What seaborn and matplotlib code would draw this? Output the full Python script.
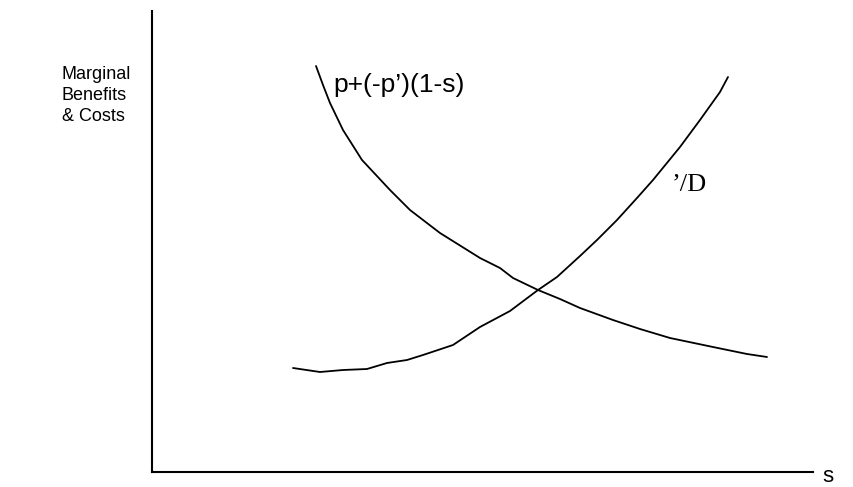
import numpy as np
import pandas as pd
import matplotlib
matplotlib.use('Agg')
import matplotlib.pyplot as plt
import seaborn as sns

sns.set_theme(style='white')
plt.rcParams['font.family'] = ['Liberation Sans', 'DejaVu Sans']

# curva decreciente: p+(-p')(1-s)
s_benef = [164, 171, 178, 191, 210, 238, 258, 288, 328, 348, 361, 386, 408, 428, 461, 488, 518, 561, 595, 615]
y_benef = [406, 387, 369, 342, 312, 282, 262, 239, 214, 204, 194, 182, 173, 164, 152, 143, 134, 125, 118, 115]

# curva creciente: '/D
s_costo = [141, 168, 191, 215, 235, 255, 271, 301, 328, 358, 386, 405, 428, 445, 465, 485, 501, 528, 548, 568, 576]
y_costo = [104, 100, 102, 103, 109, 112, 117, 127, 145, 161, 182, 195, 216, 232, 252, 274, 292, 325, 352, 380, 395]

benef = pd.DataFrame({'s': s_benef, 'valor': y_benef})
costo = pd.DataFrame({'s': s_costo, 'valor': y_costo})

W, H = 854, 487
fig = plt.figure(figsize=(W / 100, H / 100), dpi=100)
ax = fig.add_axes([152 / W, 15 / H, 661 / W, 461 / H])

sns.lineplot(data=benef, x='s', y='valor', sort=False, color='black', linewidth=1.3, ax=ax)
sns.lineplot(data=costo, x='s', y='valor', sort=False, color='black', linewidth=1.3, ax=ax)

ax.set_xlim(0, 661)
ax.set_ylim(0, 461)
ax.set_xticks([])
ax.set_yticks([])
ax.set_xlabel('')
ax.set_ylabel('')
for lado in ['top', 'right']:
    ax.spines[lado].set_visible(False)
for lado in ['left', 'bottom']:
    ax.spines[lado].set_color('black')
    ax.spines[lado].set_linewidth(1.5)

# textos
fig.text(62 / W, 1 - 66 / H, 'Marginal\nBenefits\n& Costs', fontsize=13,
         ha='left', va='top', linespacing=1.32, color='black')
ax.text(181, 387, "p+(-p\u2019)(1-s)", fontsize=19, ha='left', va='center', color='black')
ax.text(520, 287, "\u2019/D", fontsize=19, ha='left', va='center', color='black',
        family=['Liberation Serif', 'DejaVu Serif'])
fig.text(822 / W, 1 - 476 / H, 's', fontsize=16, ha='left', va='center', color='black')

fig.savefig('out.png', dpi=100, facecolor='white')
